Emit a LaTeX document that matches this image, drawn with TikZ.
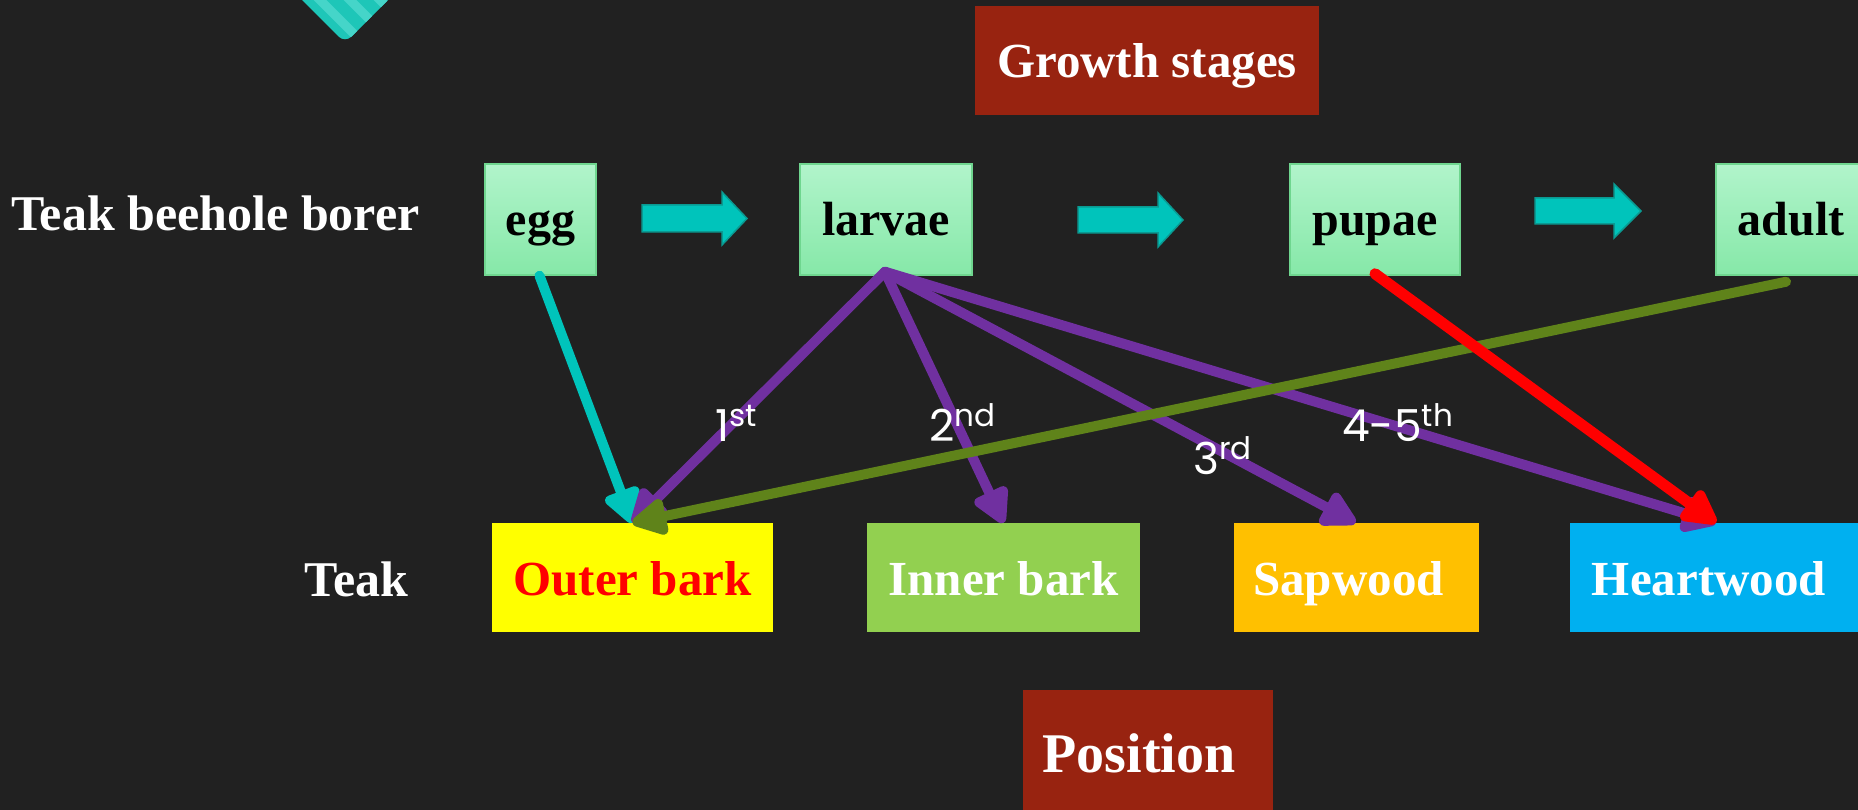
\documentclass[tikz,border=0pt]{standalone}
\usepackage{fontspec}
\setmainfont{Liberation Serif}
\newfontfamily\gothic{Poppins}
\usetikzlibrary{arrows.meta,calc}
\definecolor{bgc}{HTML}{212121}
\definecolor{cyanA}{HTML}{00C4BB}
\definecolor{cyanB}{HTML}{0A9A92}
\definecolor{purpA}{HTML}{7030A0}
\definecolor{oliveA}{HTML}{5F831A}
\definecolor{redA}{HTML}{FF0000}
\definecolor{stageTop}{HTML}{B1F4CB}
\definecolor{stageBot}{HTML}{86E8A8}
\definecolor{stageLine}{HTML}{6FD68F}
\definecolor{headRed}{HTML}{982310}
\definecolor{yellowA}{HTML}{FFFF00}
\definecolor{greenA}{HTML}{92D050}
\definecolor{orangeA}{HTML}{FFC000}
\definecolor{blueA}{HTML}{00B0F0}
\definecolor{diamA}{HTML}{1EC6B8}
\definecolor{diamB}{HTML}{45D5C9}
\tikzset{
  stagebox/.style={draw=stageLine, line width=1.5pt, top color=stageTop, bottom color=stageBot,
    minimum height=111pt, inner sep=0pt, text height=40pt, text depth=7pt,
    font=\fontsize{48}{48}\selectfont\bfseries, text=black},
  partbox/.style={draw=none, minimum height=109pt, inner sep=0pt, text height=40pt, text depth=5pt,
    font=\fontsize{49}{49}\selectfont\bfseries, text=white},
  headbox/.style={fill=headRed, inner sep=0pt, font=\bfseries, text=white},
  bigtext/.style={inner sep=0pt, font=\fontsize{50}{50}\selectfont\bfseries, text=white},
  ordlabel/.style={inner sep=0pt, anchor=base west, text=white, font=\gothic\fontsize{44}{44}\selectfont},
  blockarrow/.style={fill=cyanA, draw=cyanB, line width=1.5pt, line join=miter},
  conn/.style={line width=10pt, line cap=round, -{Triangle[length=40pt,width=40pt,round=false]}},
}
\newcommand{\sups}[1]{\raisebox{15pt}{\fontsize{31}{31}\selectfont #1}}
\begin{document}
\begin{tikzpicture}[x=1pt,y=-1pt]
\fill[bgc] (0,0) rectangle (1858,810);
\useasboundingbox (0,0) rectangle (1858,810);
\clip (0,0) rectangle (1858,810);

% decorative diamond
\begin{scope}
  \path[clip, rounded corners=9pt] (345,43) -- (260,-42) -- (345,-127) -- (430,-42) -- cycle;
  \fill[diamA] (240,-140) rectangle (450,50);
  \foreach \d in {-40,-10,20,50}
    \draw[diamB, line width=9pt] (300+\d,-60) -- ++(110,110);
\end{scope}

% heading boxes
\node[headbox, minimum width=344pt, minimum height=109pt, text height=40pt, text depth=5pt,
      font=\fontsize{49}{49}\selectfont\bfseries] (growth) at (1147,60.5) {Growth stages};
\node[headbox, minimum width=250pt, minimum height=140pt, text height=40pt, text depth=16pt,
      font=\fontsize{56}{56}\selectfont\bfseries] (position) at (1148,760) {\hspace*{-18pt}Position};

% row labels
\node[bigtext, anchor=base west] (borer) at (11,231) {Teak beehole borer};
\node[bigtext, anchor=base west] (teak) at (304,596) {Teak};

% growth stages
\node[stagebox, minimum width=111pt] (egg) at (540.5,219.5) {egg};
\node[stagebox, minimum width=172pt] (larvae) at (886,219.5) {larvae};
\node[stagebox, minimum width=170pt] (pupae) at (1375,219.5) {pupae};
\node[stagebox, minimum width=150pt] (adult) at (1791,219.5) {adult};

% block arrows between stages
\draw[blockarrow] (642,205) -- (722,205) -- (722,192) -- (747,218.5) -- (722,245) -- (722,232) -- (642,232) -- cycle;
\draw[blockarrow] (1078,207) -- (1158,207) -- (1158,193) -- (1183,220) -- (1158,247) -- (1158,233) -- (1078,233) -- cycle;
\draw[blockarrow] (1535,198) -- (1614,198) -- (1614,184) -- (1641,211) -- (1614,238) -- (1614,224) -- (1535,224) -- cycle;

% tree parts
\node[partbox, fill=yellowA, minimum width=281pt, text=redA] (outer) at (632.5,577.5) {Outer bark};
\node[partbox, fill=greenA, minimum width=273pt] (inner) at (1003.5,577.5) {Inner bark};
\node[partbox, fill=orangeA, minimum width=245pt] (sap) at (1356.5,577.5) {\hspace*{-16pt}Sapwood};
\node[partbox, fill=blueA, minimum width=300pt] (heart) at (1720,577.5) {\hspace*{-22pt}Heartwood};

% connectors
\draw[conn, cyanA] ($(egg.south)+(-1,0)$) -- (outer.north);
\draw[conn, purpA] ($(larvae.south)+(-1,-4)$) -- (outer.north);
\draw[conn, purpA] ($(larvae.south)+(-1,-4)$) -- (inner.north);
\draw[conn, purpA] ($(larvae.south)+(-1,-4)$) -- ($(sap.north)+(-1,0)$);
\draw[conn, purpA] ($(larvae.south)+(-1,-4)$) -- ($(heart.north)+(-4,0)$);
\draw[conn, oliveA] ($(adult.south)+(-5,6)$) -- (outer.north);
\draw[conn, redA, line width=11pt] ($(pupae.south)+(0,-2)$) -- ($(heart.north)+(-4,0)$);

% order labels
\node[ordlabel] (l1) at (715,441) {1\sups{st}};
\node[ordlabel] (l2) at (929,441) {2\sups{nd}};
\node[ordlabel] (l3) at (1193,474) {3\sups{rd}};
\node[ordlabel] (l4) at (1342,441) {4-5\sups{th}};
\end{tikzpicture}
\end{document}
